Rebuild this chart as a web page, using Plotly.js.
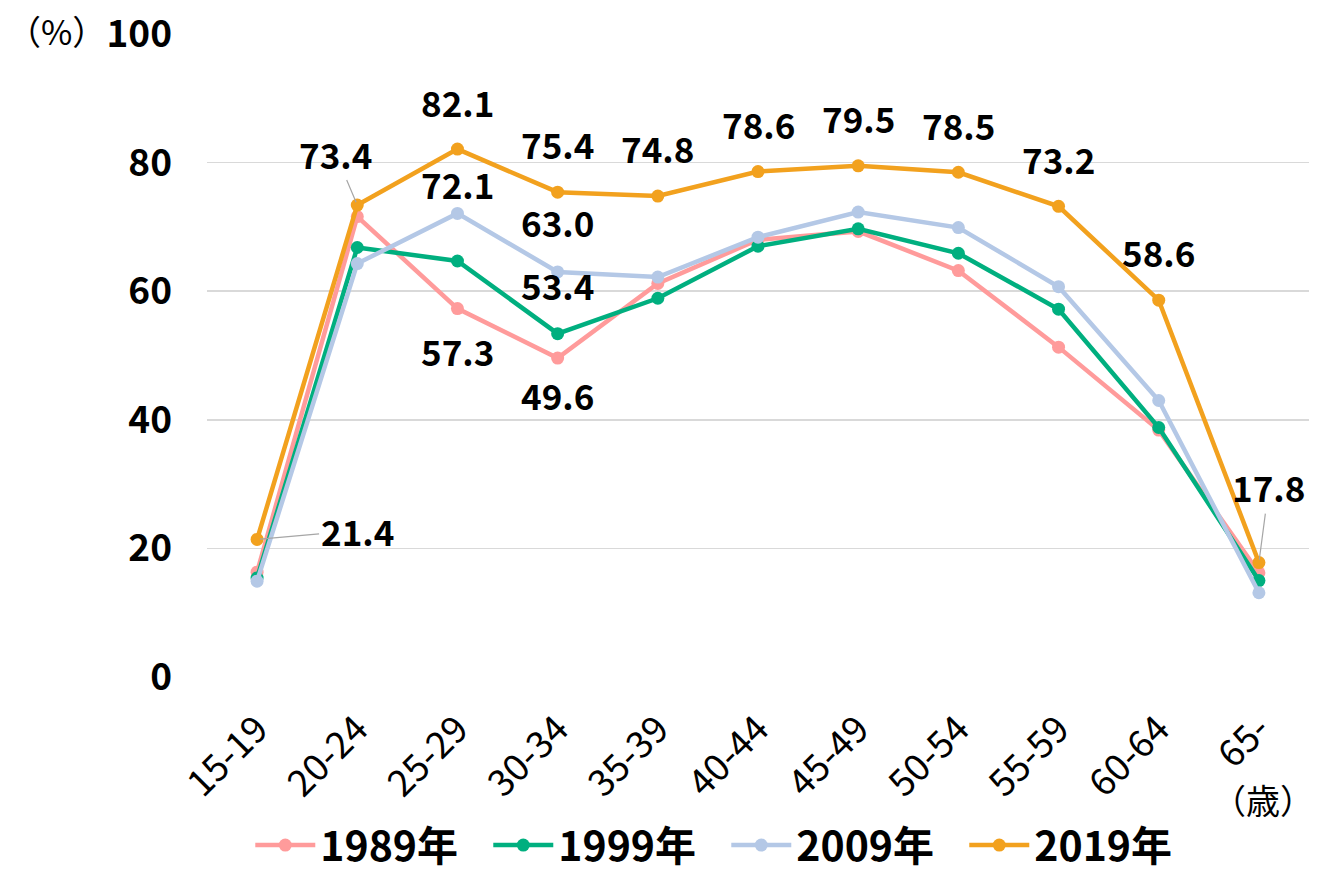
<!DOCTYPE html>
<html><head><meta charset="utf-8">
<script src="https://cdn.plot.ly/plotly-3.0.1.min.js"></script>
<style>body{margin:0;background:#fff}#chart{width:1340px;height:877px}</style>
</head><body><div id="chart"></div>
<script>
const categories = ["15-19","20-24","25-29","30-34","35-39","40-44","45-49","50-54","55-59","60-64","65-"];
const seriesNames = ["1989年","1999年","2009年","2019年"];
const v1989 = [16.3,71.6,57.3,49.6,61.2,68.0,69.3,63.2,51.3,38.4,16.2];
const v1999 = [15.4,66.8,64.7,53.4,58.9,67.0,69.7,65.9,57.2,38.8,15.0];
const v2009 = [14.9,64.3,72.1,63.0,62.2,68.4,72.3,69.9,60.7,43.0,13.1];
const v2019 = [21.4,73.4,82.1,75.4,74.8,78.6,79.5,78.5,73.2,58.6,17.8];
const colors = ["#FF9B9B","#00AF7F","#B4C8E6","#F2A11E"];
const allValues = [v1989,v1999,v2009,v2019];

const font = "'Noto Sans CJK JP', 'Noto Sans', sans-serif";
const traces = allValues.map((vals,i)=>({
  type:"scatter", mode:"lines+markers", name:seriesNames[i],
  x:categories, y:vals,
  line:{color:colors[i], width:4.5},
  marker:{color:colors[i], size:13},
  cliponaxis:false
}));

// labelled points: [seriesIndex, categoryIndex, dx, dy, leader]
const labelSpecs = [
  [3,0,100,-9,true],[3,1,-22,-52,true],[3,2,0,-48,false],[3,3,0,-49,false],[3,4,0,-49,false],
  [3,5,0,-48,false],[3,6,0,-48,false],[3,7,0,-48,false],[3,8,0,-48,false],[3,9,0,-49,false],
  [3,10,10,-76,true],
  [2,2,0,-30,false],[2,3,0,-50,false],
  [1,3,0,-49,false],
  [0,2,0,42,false],[0,3,0,36,false]
];
const annotations = labelSpecs.map(([s,c,dx,dy,leader])=>{
  const v = allValues[s][c];
  const base = {xref:"x", yref:"y", x:categories[c], y:v, text:v.toFixed(1),
    font:{family:font, size:35, color:"#000", weight:700}};
  if (leader) {
    return Object.assign(base,{showarrow:true, arrowhead:0, arrowwidth:1.2, arrowcolor:"#a6a6a6",
      ax:dx, ay:dy, standoff:3});
  }
  return Object.assign(base,{showarrow:false, xshift:dx, yshift:-dy});
});
annotations.push({xref:"paper", yref:"paper", x:-0.183, y:1.006, xanchor:"left", yanchor:"middle",
  text:"（%）", showarrow:false, font:{family:font, size:34, color:"#000"}});
annotations.push({xref:"paper", yref:"paper", x:1.006, y:-0.191, xanchor:"right", yanchor:"middle",
  text:"（歳）", showarrow:false, font:{family:font, size:34, color:"#000"}});

const layout = {
  width:1340, height:877,
  margin:{l:207, r:31, t:34, b:200, autoexpand:false},
  paper_bgcolor:"#fff", plot_bgcolor:"#fff",
  showlegend:true,
  legend:{orientation:"h", xref:"container", yref:"container", x:0.542, xanchor:"center",
    y:0.036, yanchor:"middle",
    font:{family:font, size:41, color:"#000", weight:700}, itemwidth:60,
    entrywidth:163, entrywidthmode:"pixels"},
  xaxis:{type:"category", range:[-0.5, categories.length-0.5], tickangle:-45,
    showgrid:false, zeroline:false, showline:false,
    ticks:"", automargin:false, ticklabelstandoff:22,
    tickfont:{family:font, size:37, color:"#000"}},
  yaxis:{range:[0,100], dtick:20, showgrid:true, gridcolor:"#d9d9d9", gridwidth:1.5,
    zeroline:false, showline:false, ticks:"", ticklabelstandoff:34, automargin:false,
    tickfont:{family:font, size:37, color:"#000", weight:700}},
  annotations:annotations,
  font:{family:font}
};
Plotly.newPlot("chart", traces, layout, {displayModeBar:false, staticPlot:true});
</script></body></html>
